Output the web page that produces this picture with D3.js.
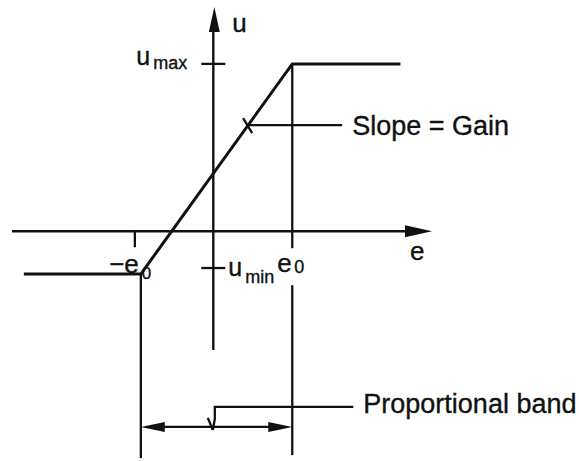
<!DOCTYPE html>
<html>
<head>
<meta charset="utf-8">
<script src="https://cdn.jsdelivr.net/npm/d3@7"></script>
<style>
  html, body { margin: 0; padding: 0; background: #fff; }
  text { font-family: "Liberation Sans", Arial, sans-serif; fill: #111; stroke: #111; stroke-width: 0.35px; }
</style>
</head>
<body>
<div id="chart"></div>
<script>
// axis extents (e = error, u = controller output)
const eExtent = [-2.55, 2.77];
const uExtent = [-0.71, 1.34];

// saturation characteristic
const curveE = [-2.4, -0.918, 1, 2.37];
const curveU = [-0.256, -0.256, 1, 1];

// tick positions and labels
const eTicks = [-0.994, 1];
const eTickLabels = ["−e", "e"];
const uTicks = [1, -0.22];
const uTickLabels = ["u", "u"];
const uTickSubs = ["max", "min"];

// guide lines / annotations
const bandEdges = [-0.918, 1];     // vertical lines bounding the band
const bandBottom = -1.356;
const bandArrowU = -1.17;
const bandLeaderU = -1.05;
const slopeNoteU = 0.634;

const W = 579, H = 461;

const x = d3.scaleLinear().domain(eExtent).range([12, 432]);
const y = d3.scaleLinear().domain(uExtent).range([350, 7]);

const svg = d3.select("#chart").append("svg")
    .attr("width", W)
    .attr("height", H);

const line = d3.line();
const ink = "#111";

function seg(x1, y1, x2, y2, w) {
    svg.append("line")
        .attr("x1", x1).attr("y1", y1)
        .attr("x2", x2).attr("y2", y2)
        .attr("stroke", ink)
        .attr("stroke-width", w || 2.3);
}

function head(tipX, tipY, dx, dy, len, half) {
    // arrow head pointing in (dx,dy)
    const bx = tipX - dx * len, by = tipY - dy * len;
    const px = -dy * half, py = dx * half;
    svg.append("path")
        .attr("d", line([[tipX, tipY], [bx + px, by + py], [bx - px, by - py]]) + "Z")
        .attr("fill", ink);
}

const x0 = x(0), y0 = y(0);

// e axis
seg(x(eExtent[0]), y0, x(eExtent[1]) - 10, y0, 2.4);
head(x(eExtent[1]), y0, 1, 0, 27, 6);
// u axis
seg(x0, y(uExtent[0]), x0, y(uExtent[1]) + 10, 2.4);
head(x0 + 1, y(uExtent[1]), 0, -1, 25, 5.5);

// axis names
svg.append("text").attr("x", x0 + 19).attr("y", y(uExtent[1]) + 25)
    .attr("font-size", 26).text("u");
svg.append("text").attr("x", x(eExtent[1]) - 22).attr("y", y0 + 29)
    .attr("font-size", 26).text("e");

// u ticks
uTicks.forEach(u => {
    seg(x0 - 12, y(u), x0 + 12, y(u));
});
const umax = svg.append("text").attr("x", x0 - 77).attr("y", y(uTicks[0]) + 1)
    .attr("font-size", 25);
umax.append("tspan").text(uTickLabels[0]);
umax.append("tspan").attr("dx", 3).attr("dy", 4).attr("font-size", 18).text(uTickSubs[0]);
const umin = svg.append("text").attr("x", x0 + 15).attr("y", y(uTicks[1]) + 8)
    .attr("font-size", 25);
umin.append("tspan").text(uTickLabels[1]);
umin.append("tspan").attr("dx", 3).attr("dy", 7).attr("font-size", 18).text(uTickSubs[1]);

// e ticks
seg(x(eTicks[0]), y0, x(eTicks[0]), y0 + 16);
svg.append("text").attr("x", x(eTicks[0]) + 4).attr("y", y0 + 42)
    .attr("text-anchor", "end").attr("font-size", 26).text(eTickLabels[0]);
svg.append("text").attr("x", x(eTicks[0]) + 7).attr("y", y0 + 48)
    .attr("font-size", 17).text("0");
svg.append("text").attr("x", x(eTicks[1]) - 15).attr("y", y0 + 41)
    .attr("font-size", 26).text(eTickLabels[1]);
svg.append("text").attr("x", x(eTicks[1]) + 2).attr("y", y0 + 42)
    .attr("font-size", 18).text("0");

// vertical band edges
seg(x(bandEdges[0]), y(curveU[1]), x(bandEdges[0]), y(bandBottom));
seg(x(bandEdges[1]), y(curveU[2]), x(bandEdges[1]), y0 + 17);
seg(x(bandEdges[1]), y0 + 54, x(bandEdges[1]), y(bandBottom) - 3);

// characteristic curve
svg.append("path")
    .attr("d", line(curveE.map((e, i) => [x(e), y(curveU[i])])))
    .attr("fill", "none")
    .attr("stroke", ink)
    .attr("stroke-width", 3)
    .attr("stroke-linejoin", "miter");

// slope annotation
const slopeE = curveE[1] + (slopeNoteU - curveU[1]) / (curveU[2] - curveU[1]) * (curveE[2] - curveE[1]);
const sx = x(slopeE), sy = y(slopeNoteU);
seg(sx, sy, sx + 94, sy);
seg(sx - 5, sy - 7, sx + 4, sy + 8);
svg.append("text").attr("x", sx + 104).attr("y", sy + 10)
    .attr("font-size", 27).text("Slope = Gain");

// proportional band arrow
const ax1 = x(bandEdges[0]), ax2 = x(bandEdges[1]), ay = y(bandArrowU);
seg(ax1 + 10, ay, ax2 - 10, ay);
head(ax1, ay, -1, 0, 24, 5);
head(ax2, ay, 1, 0, 24, 5);
const lx = x0 + 1.5, ly = y(bandLeaderU);
svg.append("path")
    .attr("d", line([[x0 + 140, ly], [lx, ly], [lx, ly + 12], [lx - 2, ay + 3]]))
    .attr("fill", "none").attr("stroke", ink).attr("stroke-width", 2.3);
seg(lx - 7, ly + 11, lx - 2, ay + 3);
svg.append("text").attr("x", x0 + 150).attr("y", ly + 6)
    .attr("font-size", 27).text("Proportional band");
</script>
</body>
</html>
